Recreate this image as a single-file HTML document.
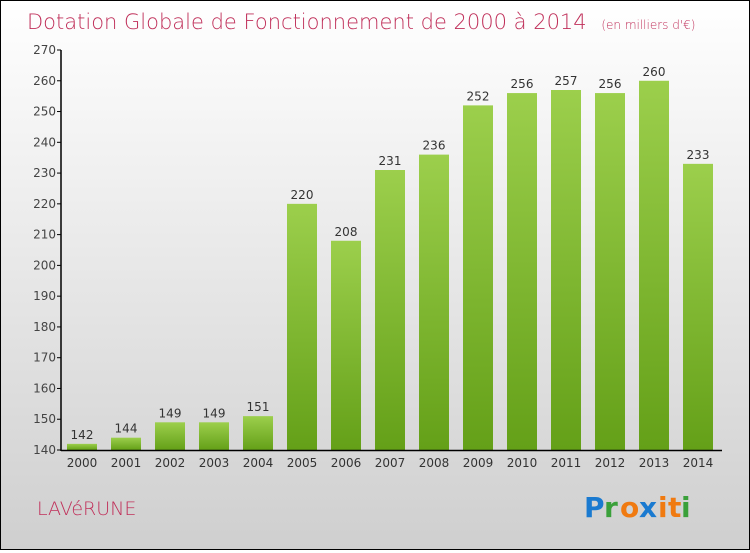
<!DOCTYPE html>
<html><head><meta charset="utf-8"><style>
body{margin:0}
#c{width:748px;height:548px;border:1px solid #000;background:linear-gradient(#fff,#cfcfcf);position:relative;font-family:"DejaVu Sans","Liberation Sans",sans-serif}
</style></head><body>
<div id="c">
<svg width="748" height="548" id="s">
<text x="26" y="28" font-size="21" fill="#c0305a" font-family="DejaVu Sans" style="font-weight:200">Dotation Globale de Fonctionnement de 2000 à 2014 <tspan font-size="12" dx="8">(en milliers d'€)</tspan></text>
<text x="36" y="514" font-size="19" fill="#c0305a" style="font-weight:200">LAVéRUNE</text>
<g font-size="28" font-family="DejaVu Sans" font-weight="bold">
<text x="583" y="516" fill="#1a7ad0">P</text><text x="603" y="516" fill="#3aa03a">r</text><text x="619" y="516" fill="#f07a10">o</text><text x="638" y="516" fill="#1a7ad0">x</text><text x="657" y="516" fill="#f07a10">i</text><text x="667" y="516" fill="#f07a10">t</text><text x="680" y="516" fill="#3aa03a">i</text>
</g>
</svg></div>
<script>
const categories=["2000","2001","2002","2003","2004","2005","2006","2007","2008","2009","2010","2011","2012","2013","2014"];
const values=[142,144,149,149,151,220,208,231,236,252,256,257,256,260,233];
const ticks=[140,150,160,170,180,190,200,210,220,230,240,250,260,270];
const s=document.getElementById('s'),NS="http://www.w3.org/2000/svg";
const y=v=>449-(v-140)*(400/130), x=i=>81+i*44;
function mk(t,a,p){const e=document.createElementNS(NS,t);for(const k in a)e.setAttribute(k,a[k]);(p||s).appendChild(e);return e;}
const defs=mk('defs',{});const g=mk('linearGradient',{id:'bg',x1:0,y1:0,x2:0,y2:1},defs);
mk('stop',{offset:0,'stop-color':'#9ccf4c'},g);mk('stop',{offset:1,'stop-color':'#64a018'},g);
values.forEach((v,i)=>{
 const r=mk('rect',{x:x(i)-15,y:y(v),width:30,height:449-y(v),fill:'url(#bg)'});
 
 
 const t=mk('text',{x:x(i),y:y(v)-5,'text-anchor':'middle','font-size':12,fill:'#333'});t.textContent=v;
 
 
 const c=mk('text',{x:x(i),y:466,'text-anchor':'middle','font-size':12,fill:'#333'});c.textContent=categories[i];
 
 
});
ticks.forEach(v=>{
 mk('line',{x1:56,x2:60,y1:y(v),y2:y(v),stroke:'#000'});
 const t=mk('text',{x:55,y:y(v)+4,'text-anchor':'end','font-size':12,fill:'#444'});t.textContent=v;
 
 
});
const ya=mk('line',{x1:60,x2:60,y1:y(270),y2:450,stroke:'#000','stroke-width':1.5});


const xa=mk('line',{x1:60,x2:721,y1:449.5,y2:449.5,stroke:'#000','stroke-width':1.5});


</script>
</body></html>
